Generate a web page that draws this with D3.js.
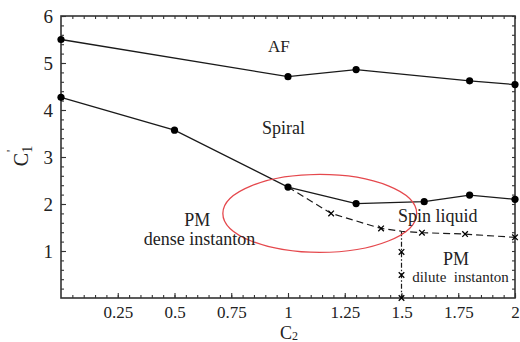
<!DOCTYPE html>
<html><head><meta charset="utf-8">
<script src="https://cdn.jsdelivr.net/npm/d3@7/dist/d3.min.js"></script>
<style>body{margin:0;background:#fff}svg{display:block}text{font-family:"Liberation Serif","Times New Roman",serif;fill:#222}</style>
</head><body><svg id="c" width="520" height="342"></svg>
<script>
// Data
const afX = [0, 1, 1.3, 1.8, 2];
const afY = [5.5, 4.71, 4.86, 4.62, 4.54];
const spiralX = [0, 0.5, 1, 1.3, 1.6, 1.8, 2];
const spiralY = [4.27, 3.57, 2.36, 2.01, 2.05, 2.19, 2.1];
const slX = [1, 1.19, 1.41, 1.5, 1.59, 1.78, 2];
const slY = [2.36, 1.8, 1.48, 1.42, 1.39, 1.36, 1.29];
const slMarkX = [1.19, 1.41, 1.59, 1.78, 2];
const slMarkY = [1.8, 1.48, 1.39, 1.36, 1.29];
const vX = [1.5, 1.5, 1.5, 1.5];
const vY = [1.42, 0.98, 0.49, 0];
const vMarkY = [0.98, 0.49, 0];
const xTicks = [0.25, 0.5, 0.75, 1, 1.25, 1.5, 1.75, 2];
const xTickLabels = ["0.25", "0.5", "0.75", "1", "1.25", "1.5", "1.75", "2"];
const yTicks = [1, 2, 3, 4, 5, 6];
const regionLabels = ["AF", "Spiral", "PM", "dense instanton", "Spin liquid", "PM", "dilute  instanton"];
const regionX = [0.96, 0.98, 0.6, 0.61, 1.66, 1.74, 1.76];
const regionY = [5.24, 3.5, 1.53, 1.13, 1.62, 0.7, 0.34];
const regionSize = [17, 18, 18, 18, 18, 18, 15];
const ellipseC = [1.14, 1.8]; const ellipseR = [0.427, 0.83];

const svg = d3.select("#c");
const L = 61, R = 515, T = 16, B = 298;
const x = d3.scaleLinear().domain([0, 2]).range([L, R]);
const y = d3.scaleLinear().domain([0, 6]).range([B, T]);

const axisColor = "#333";
const xMinor = d3.range(0.05, 2.0001, 0.05);
const yMinor = d3.range(0.2, 6.0001, 0.2);
function styleAxis(g){ g.select(".domain").remove(); g.selectAll("line").attr("stroke", axisColor).attr("stroke-width", 1.1); }
svg.append("g").attr("transform", `translate(0,${B})`).call(d3.axisBottom(x).tickValues(xMinor).tickSize(-3).tickFormat("")).call(styleAxis);
svg.append("g").attr("transform", `translate(0,${T})`).call(d3.axisTop(x).tickValues(xMinor).tickSize(-3).tickFormat("")).call(styleAxis);
svg.append("g").attr("transform", `translate(${L},0)`).call(d3.axisLeft(y).tickValues(yMinor).tickSize(-3).tickFormat("")).call(styleAxis);
svg.append("g").attr("transform", `translate(${R},0)`).call(d3.axisRight(y).tickValues(yMinor).tickSize(-3).tickFormat("")).call(styleAxis);
const xa = svg.append("g").attr("transform", `translate(0,${B})`).call(d3.axisBottom(x).tickValues(xTicks).tickSize(-5).tickPadding(8).tickFormat((d,i)=>xTickLabels[i])).call(styleAxis);
xa.selectAll("text").attr("font-size", 17).attr("fill", "#222").attr("font-family", "Liberation Serif");
const ya = svg.append("g").attr("transform", `translate(${L},0)`).call(d3.axisLeft(y).tickValues(yTicks).tickSize(-5).tickPadding(8).tickFormat(d3.format("d"))).call(styleAxis);
ya.selectAll("text").attr("font-size", 19).attr("fill", "#222").attr("font-family", "Liberation Serif");

svg.append("rect").attr("x", L).attr("y", T).attr("width", R - L).attr("height", B - T)
  .attr("fill", "none").attr("stroke", axisColor).attr("stroke-width", 1.6);

const line = d3.line().x(d => x(d[0])).y(d => y(d[1]));
const ink = "#1a1a1a";
svg.append("path").attr("d", line(afX.map((v,i)=>[v, afY[i]]))).attr("fill","none").attr("stroke",ink).attr("stroke-width",1.3);
svg.append("path").attr("d", line(spiralX.map((v,i)=>[v, spiralY[i]]))).attr("fill","none").attr("stroke",ink).attr("stroke-width",1.3);
svg.append("path").attr("d", line(slX.map((v,i)=>[v, slY[i]]))).attr("fill","none").attr("stroke",ink).attr("stroke-width",1.2).attr("stroke-dasharray","7,4");
svg.append("path").attr("d", line(vX.map((v,i)=>[v, vY[i]]))).attr("fill","none").attr("stroke",ink).attr("stroke-width",1.2).attr("stroke-dasharray","5,2,1.5,2");

const dots = afX.map((v,i)=>[v, afY[i]]).concat(spiralX.map((v,i)=>[v, spiralY[i]]));
svg.selectAll(".dot").data(dots).join("circle").attr("cx", d=>x(d[0])).attr("cy", d=>y(d[1])).attr("r", 3.6).attr("fill", "#000");
const stars = slMarkX.map((v,i)=>[v, slMarkY[i]]).concat(vMarkY.map(v=>[1.5, v]));
const sym = d3.symbol().type(d3.symbolX).size(22);
svg.selectAll(".star").data(stars).join("path").attr("d", sym)
  .attr("transform", d=>`translate(${x(d[0])},${y(d[1])})`).attr("stroke", "#000").attr("stroke-width", 1.3).attr("fill","none");

svg.append("ellipse").attr("cx", x(ellipseC[0])).attr("cy", y(ellipseC[1]))
  .attr("rx", x(ellipseR[0]) - x(0)).attr("ry", y(0) - y(ellipseR[1]))
  .attr("fill", "none").attr("stroke", "#e5484d").attr("stroke-width", 1.3);

svg.selectAll(".rl").data(regionLabels).join("text")
  .attr("x", (d,i)=>x(regionX[i])).attr("y", (d,i)=>y(regionY[i]))
  .attr("text-anchor", "middle").attr("font-size", (d,i)=>regionSize[i])
  .attr("xml:space", "preserve").style("white-space", "pre").text(d=>d);

const xt = svg.append("text").attr("x", 289).attr("y", 338.5).attr("text-anchor", "middle").attr("font-size", 18);
xt.append("tspan").text("C");
xt.append("tspan").attr("font-size", 12).attr("dy", 1).text("2");
const yt = svg.append("text").attr("transform", "translate(28,156) rotate(-90)").attr("text-anchor", "middle").attr("font-size", 20);
yt.append("tspan").text("C");
yt.append("tspan").attr("font-size", 14).attr("dy", 4).text("1");
svg.append("text").attr("transform", "translate(15,151) rotate(-90)").attr("text-anchor", "middle").attr("font-size", 12).text("'");
</script></body></html>
